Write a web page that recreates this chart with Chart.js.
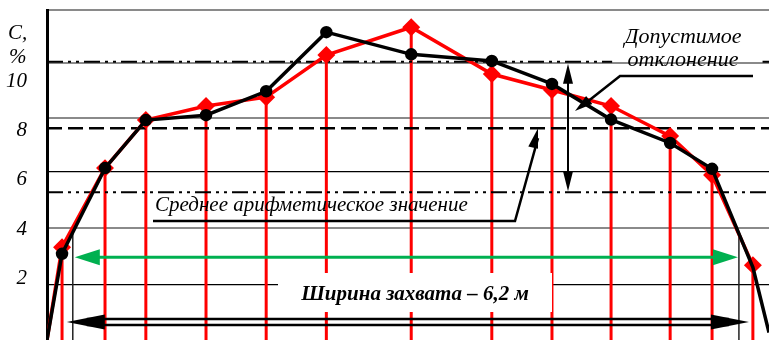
<!DOCTYPE html>
<html>
<head>
<meta charset="utf-8">
<script src="https://cdn.jsdelivr.net/npm/chart.js@4/dist/chart.umd.min.js"></script>
<style>
  body { margin: 0; background: #fff; }
  #wrap { width: 769px; height: 340px; }
</style>
</head>
<body>
<div id="wrap"><canvas id="chart" width="769" height="340"></canvas></div>
<script>
// positions across the swath, m (0 = centre)
const positions = [-3.2, -2.8, -2.42, -1.86, -1.3, -0.74, 0.05, 0.8, 1.36, 1.91, 2.46, 2.85, 3.23];
const redValues = [3.27, 6.48, 8.43, 9.0, 9.36, 11.07, 12.2, 10.3, 9.65, 9.0, 7.78, 6.2, 2.54];
const blackValues = [3.0, 6.48, 8.43, 8.63, 9.6, 12.0, 11.1, 10.83, 9.9, 8.45, 7.5, 6.45, 2.45];
const curveStart = -0.5;
const blackEnd = -0.2;

const yTicks = [2, 4, 6, 8, 10];
const gridValues = [12.9, 10.75, 8.51, 6.32, 4.05, 1.76];
const gridColors = ['#8a8a8a', '#8a8a8a', '#8a8a8a', '#000', '#8a8a8a', '#000'];

const meanValue = 8.1;
const upperLimit = 10.8;
const lowerLimit = 5.5;
const swathHalf = 3.1; // 6,2 m
const xMin = -3.34, xMax = 3.38;
const yMin = -0.5, yMax = 12.9;

const serif = '"Liberation Serif", "DejaVu Serif", serif';

function pts(vals) {
    return positions.map((x, i) => ({ x: x, y: vals[i] }));
}

function arrowHead(ctx, tx, ty, angle, len, half) {
    ctx.save();
    ctx.translate(tx, ty);
    ctx.rotate(angle);
    ctx.beginPath();
    ctx.moveTo(0, 0);
    ctx.lineTo(-len, -half);
    ctx.lineTo(-len, half);
    ctx.closePath();
    ctx.fill();
    ctx.restore();
}

function noPadding(s) {
    s.paddingTop = 0;
    s.paddingBottom = 0;
}

// red drop lines under the curves
const dropLines = {
    id: 'dropLines',
    beforeDatasetsDraw(chart) {
        const ctx = chart.ctx, xs = chart.scales.x, ys = chart.scales.y;
        const bottom = chart.chartArea.bottom;
        ctx.save();
        ctx.strokeStyle = '#ff0000';
        ctx.lineWidth = 3;
        positions.forEach((p, i) => {
            const px = xs.getPixelForValue(p);
            ctx.beginPath();
            ctx.moveTo(px, ys.getPixelForValue(redValues[i]));
            ctx.lineTo(px, bottom);
            ctx.stroke();
        });
        // swath edges
        ctx.strokeStyle = '#222';
        ctx.lineWidth = 1.5;
        [-swathHalf, swathHalf].forEach(v => {
            const px = xs.getPixelForValue(v);
            ctx.beginPath();
            ctx.moveTo(px, ys.getPixelForValue(3.9));
            ctx.lineTo(px, bottom);
            ctx.stroke();
        });
        ctx.restore();
    }
};

const annotations = {
    id: 'annotations',
    afterDraw(chart) {
        const ctx = chart.ctx, xs = chart.scales.x, ys = chart.scales.y;
        ctx.save();

        // axis caption
        ctx.fillStyle = '#000';
        ctx.font = 'italic 21px ' + serif;
        ctx.textBaseline = 'middle';
        ctx.textAlign = 'left';
        ctx.fillText('C,', 8, 33);
        ctx.fillText('%', 9, 57);

        // green arrow
        const gy = ys.getPixelForValue(2.86);
        const gl = xs.getPixelForValue(-swathHalf) + 2;
        const gr = xs.getPixelForValue(swathHalf) - 1;
        ctx.strokeStyle = '#00b050';
        ctx.fillStyle = '#00b050';
        ctx.lineWidth = 3;
        ctx.beginPath();
        ctx.moveTo(gl + 20, gy);
        ctx.lineTo(gr - 20, gy);
        ctx.stroke();
        arrowHead(ctx, gl, gy, Math.PI, 25, 8);
        arrowHead(ctx, gr, gy, 0, 25, 8);

        // label box
        const bx = 278, by = 273, bw = 274, bh = 39;
        ctx.fillStyle = '#fff';
        ctx.fillRect(bx, by, bw, bh);
        ctx.fillStyle = '#000';
        ctx.font = 'bold italic 21px ' + serif;
        ctx.textAlign = 'center';
        ctx.fillText('Ширина захвата – 6,2 м', 415, 295);

        // black double arrow
        const al = xs.getPixelForValue(-swathHalf) - 6;
        const ar = xs.getPixelForValue(swathHalf) + 10;
        ctx.strokeStyle = '#000';
        ctx.lineWidth = 2.5;
        [319, 325].forEach(y => {
            ctx.beginPath();
            ctx.moveTo(al + 20, y);
            ctx.lineTo(ar - 20, y);
            ctx.stroke();
        });
        arrowHead(ctx, al, 322, Math.PI, 38, 7.5);
        arrowHead(ctx, ar, 322, 0, 38, 7.5);

        // mean value label
        ctx.font = 'italic 21px ' + serif;
        ctx.textAlign = 'left';
        ctx.fillText('Среднее арифметическое значение', 155, 205);
        const mx = 538, my = ys.getPixelForValue(meanValue);
        ctx.lineWidth = 2.5;
        ctx.beginPath();
        ctx.moveTo(153, 221);
        ctx.lineTo(515, 221);
        ctx.lineTo(mx, my + 10);
        ctx.stroke();
        arrowHead(ctx, mx, my, Math.atan2(my - 221, mx - 515), 20, 5);

        // tolerance
        ctx.font = 'italic 22px ' + serif;
        ctx.textAlign = 'center';
        ctx.fillText('Допустимое', 683, 37);
        ctx.fillText('отклонение', 683, 60);
        ctx.beginPath();
        ctx.moveTo(753, 76);
        ctx.lineTo(620, 76);
        ctx.lineTo(582, 106);
        ctx.stroke();
        arrowHead(ctx, 575, 111, Math.atan2(111 - 76, 575 - 620), 18, 5);

        const vx = 568;
        const vt = ys.getPixelForValue(upperLimit) + 2;
        const vb = ys.getPixelForValue(lowerLimit) - 1;
        ctx.lineWidth = 2;
        ctx.beginPath();
        ctx.moveTo(vx, vt + 15);
        ctx.lineTo(vx, vb - 15);
        ctx.stroke();
        arrowHead(ctx, vx, vt, -Math.PI / 2, 20, 5);
        arrowHead(ctx, vx, vb, Math.PI / 2, 20, 5);

        ctx.restore();
    }
};

const blackData = [{ x: xMin, y: curveStart }].concat(pts(blackValues), [{ x: xMax, y: blackEnd }]);
const redData = [{ x: xMin, y: curveStart }].concat(pts(redValues));

new Chart(document.getElementById('chart'), {
    type: 'line',
    data: {
        datasets: [
            {
                data: blackData,
                borderColor: '#000',
                backgroundColor: '#000',
                borderWidth: 3.5,
                pointStyle: 'circle',
                // no marker on the end points and on the last measured point (hidden under the red one)
                pointRadius: ctx => (ctx.dataIndex === 0 || ctx.dataIndex >= blackData.length - 2) ? 0 : 4.5
            },
            {
                data: redData,
                borderColor: '#ff0000',
                backgroundColor: '#ff0000',
                borderWidth: 3.5,
                pointStyle: 'rectRot',
                pointRadius: ctx => ctx.dataIndex === 0 ? 0 : 6.5
            },
            {
                data: [{ x: xMin, y: meanValue }, { x: xMax, y: meanValue }],
                borderColor: '#000',
                borderWidth: 2.5,
                borderDash: [15, 6],
                pointRadius: 0
            },
            {
                data: [{ x: xMin, y: upperLimit }, { x: 1.92, y: upperLimit }, { x: 2.6, y: null },
                       { x: 3.32, y: upperLimit }, { x: xMax, y: upperLimit }],
                borderColor: '#000',
                borderWidth: 2,
                borderDash: [16, 5, 3, 5, 3, 5],
                spanGaps: false,
                pointRadius: 0
            },
            {
                data: [{ x: xMin, y: lowerLimit }, { x: xMax, y: lowerLimit }],
                borderColor: '#000',
                borderWidth: 2,
                borderDash: [16, 5, 3, 5, 3, 5],
                pointRadius: 0
            }
        ]
    },
    options: {
        responsive: false,
        animation: false,
        layout: { autoPadding: false, padding: { top: 10, right: 0, bottom: 0, left: 0 } },
        plugins: { legend: { display: false }, tooltip: { enabled: false } },
        scales: {
            x: {
                type: 'linear', min: xMin, max: xMax, display: false,
                afterFit: s => { s.height = 0; s.paddingLeft = 0; s.paddingRight = 0; }
            },
            y: {
                type: 'linear', min: yMin, max: yMax, position: 'left',
                afterBuildTicks: s => { s.ticks = yTicks.map(v => ({ value: v })); },
                afterFit: s => { s.width = 47; noPadding(s); },
                grid: { display: false, drawTicks: false },
                border: { display: true, color: '#000', width: 3 },
                ticks: { color: '#000', padding: 20, font: { family: serif, size: 21, style: 'italic' } }
            },
            yGrid: {
                type: 'linear', min: yMin, max: yMax, position: 'left',
                afterBuildTicks: s => { s.ticks = gridValues.map(v => ({ value: v })); },
                afterFit: s => { s.width = 0; noPadding(s); },
                ticks: { display: false },
                border: { display: false },
                grid: {
                    drawTicks: false,
                    color: c => gridColors[c.index],
                    lineWidth: c => gridColors[c.index] === '#000' ? 1.2 : 2
                }
            }
        }
    },
    plugins: [dropLines, annotations]
});
</script>
</body>
</html>
